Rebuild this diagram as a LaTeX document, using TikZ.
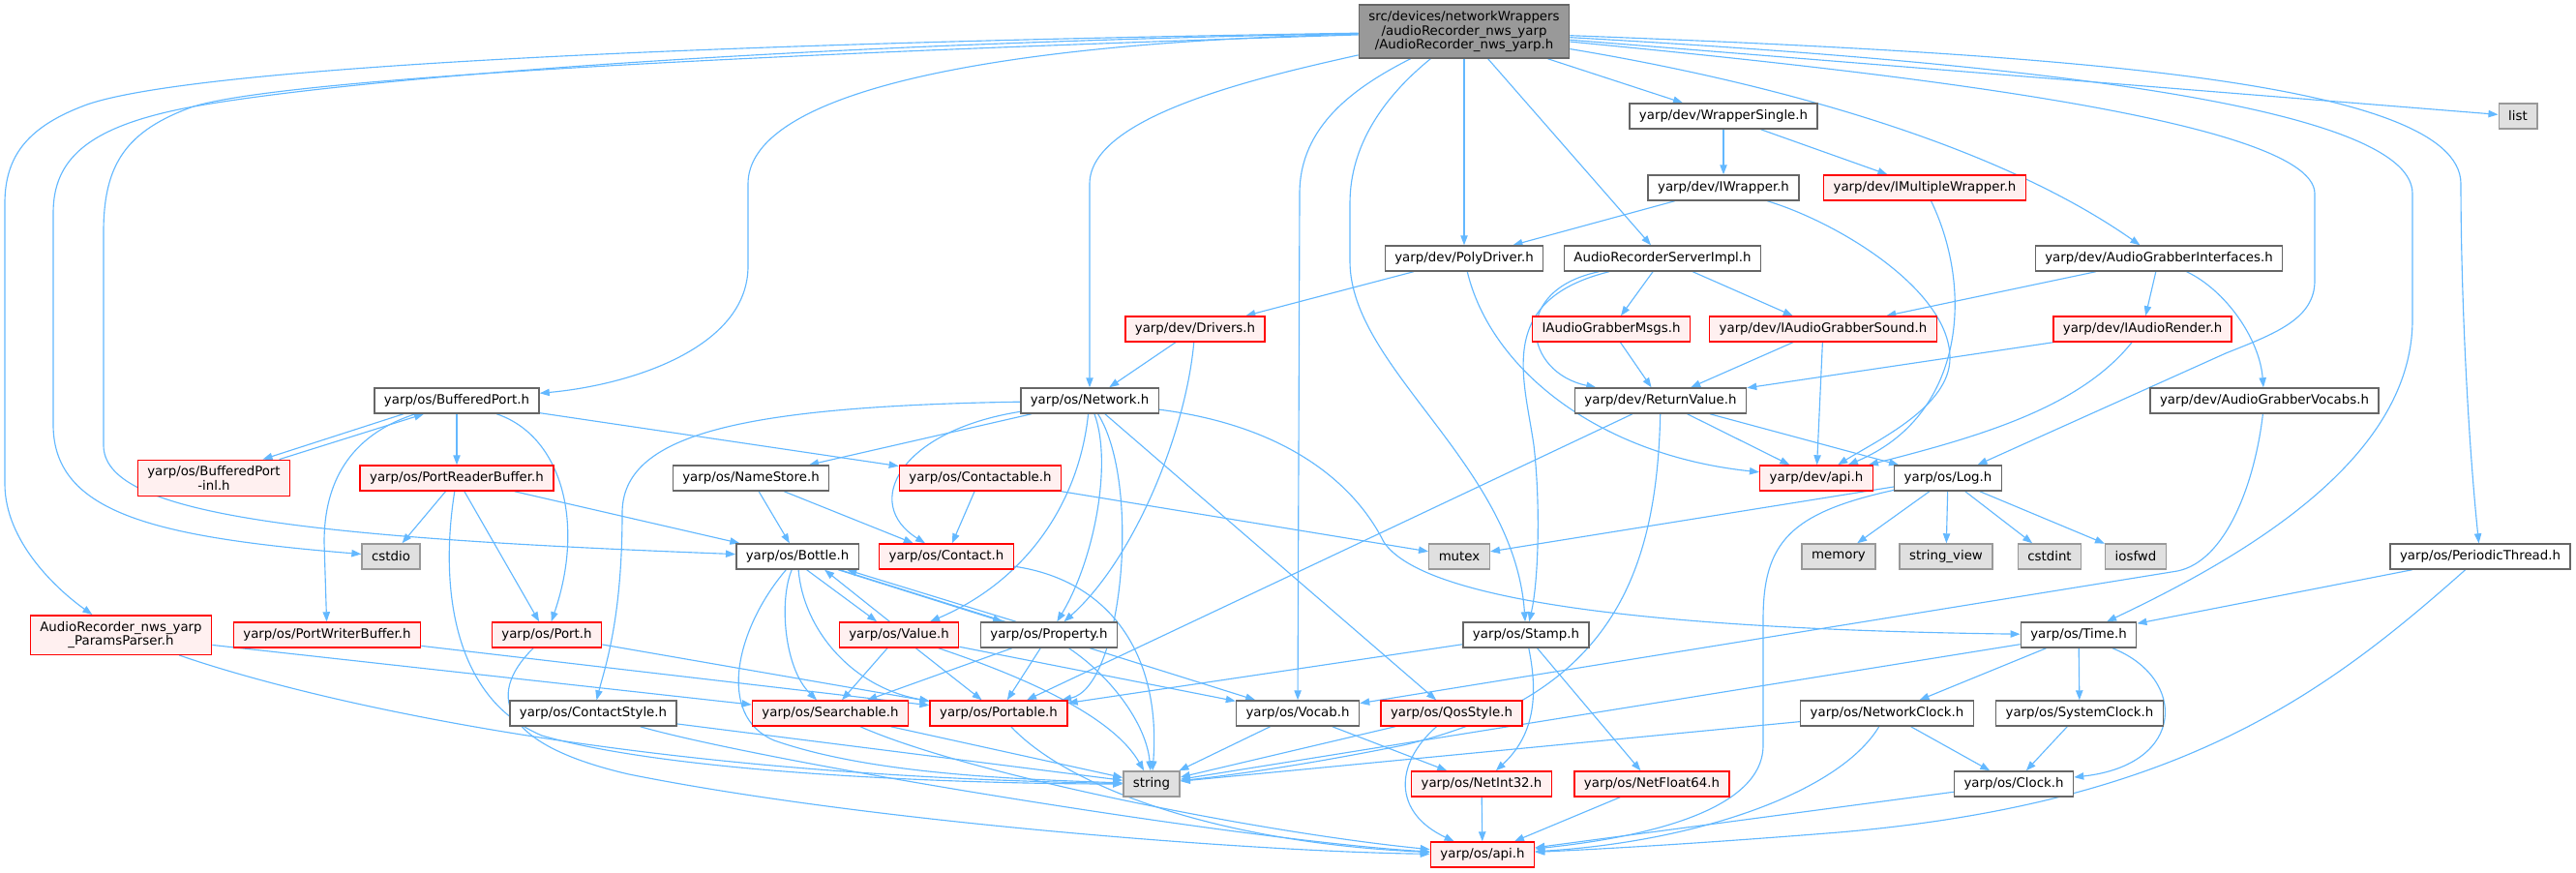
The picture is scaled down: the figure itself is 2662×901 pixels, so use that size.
\documentclass[tikz,border=0pt]{standalone}
\usepackage{fontspec}
\setmainfont{DejaVu Sans}
\usepackage{xcolor}
\usetikzlibrary{arrows.meta}
\definecolor{edgeblue}{HTML}{63B8FF}
\definecolor{redfill}{HTML}{FFF0F0}
\definecolor{extfill}{HTML}{E0E0E0}
\definecolor{extline}{HTML}{999999}
\definecolor{fileline}{HTML}{666666}
\definecolor{rootfill}{HTML}{999999}
\pgfdeclarelayer{background}
\pgfsetlayers{background,main}
\tikzset{file/.style={rectangle,draw=fileline,fill=white,line width=1.1pt,font=\fontsize{10}{10.9}\selectfont,inner xsep=7.5pt,inner ysep=4.75pt,minimum height=19.5pt,align=center},
         redfile/.style={file,draw=red,fill=redfill},
         extfile/.style={file,draw=extline,fill=extfill},
         rootfile/.style={file,fill=rootfill},
         arrow/.style={-{Triangle[length=7.5pt,width=5.5pt]},edgeblue,line width=0.85pt}}

\begin{document}
\begin{tikzpicture}[x=0.75pt,y=-0.75pt]
    \useasboundingbox (0,0) rectangle (2662,901);
    % Files
    \node[rootfile] (root) at (1513,32.5) {src/devices/networkWrappers\\/audioRecorder\_nws\_yarp\\/AudioRecorder\_nws\_yarp.h};
    \node[file] (wsingle) at (1781,120) {yarp/dev/WrapperSingle.h};
    \node[extfile] (list) at (2602,120) {list};
    \node[file] (iwrap) at (1781,194) {yarp/dev/IWrapper.h};
    \node[redfile] (imulti) at (1989,194) {yarp/dev/IMultipleWrapper.h};
    \node[file] (poly) at (1513,267) {yarp/dev/PolyDriver.h};
    \node[file] (srvimpl) at (1718,267) {AudioRecorderServerImpl.h};
    \node[file] (agi) at (2231,267) {yarp/dev/AudioGrabberInterfaces.h};
    \node[redfile] (drivers) at (1235,340) {yarp/dev/Drivers.h};
    \node[redfile] (msgs) at (1665,340) {IAudioGrabberMsgs.h};
    \node[redfile] (sound) at (1884,340) {yarp/dev/IAudioGrabberSound.h};
    \node[redfile] (render) at (2214,340) {yarp/dev/IAudioRender.h};
    \node[file] (bport) at (472,414) {yarp/os/BufferedPort.h};
    \node[file] (network) at (1126,414) {yarp/os/Network.h};
    \node[file] (retval) at (1716,414) {yarp/dev/ReturnValue.h};
    \node[file] (vocabs) at (2340,414) {yarp/dev/AudioGrabberVocabs.h};
    \node[redfile] (bportinl) at (221,494) {yarp/os/BufferedPort\\-inl.h};
    \node[redfile] (preader) at (472,494) {yarp/os/PortReaderBuffer.h};
    \node[file] (namestore) at (776,494) {yarp/os/NameStore.h};
    \node[redfile] (contactable) at (1013,494) {yarp/os/Contactable.h};
    \node[redfile] (devapi) at (1877,494) {yarp/dev/api.h};
    \node[file] (logh) at (2013,494) {yarp/os/Log.h};
    \node[extfile] (cstdio) at (404,575) {cstdio};
    \node[file] (bottle) at (824,575) {yarp/os/Bottle.h};
    \node[redfile] (contact) at (978,575) {yarp/os/Contact.h};
    \node[extfile] (mutex) at (1508,575) {mutex};
    \node[extfile] (memory) at (1900,575) {memory};
    \node[extfile] (strview) at (2011,575) {string\_view};
    \node[extfile] (cstdint) at (2118,575) {cstdint};
    \node[extfile] (iosfwd) at (2207,575) {iosfwd};
    \node[file] (periodic) at (2563,575) {yarp/os/PeriodicThread.h};
    \node[redfile] (parser) at (125,656) {AudioRecorder\_nws\_yarp\\\_ParamsParser.h};
    \node[redfile] (pwriter) at (338,656) {yarp/os/PortWriterBuffer.h};
    \node[redfile] (port) at (565,656) {yarp/os/Port.h};
    \node[redfile] (value) at (929,656) {yarp/os/Value.h};
    \node[file] (property) at (1084,656) {yarp/os/Property.h};
    \node[file] (stamp) at (1577,656) {yarp/os/Stamp.h};
    \node[file] (timeh) at (2148,656) {yarp/os/Time.h};
    \node[file] (cstyle) at (613,737) {yarp/os/ContactStyle.h};
    \node[redfile] (searchable) at (858,737) {yarp/os/Searchable.h};
    \node[redfile] (portable) at (1032,737) {yarp/os/Portable.h};
    \node[file] (vocab) at (1341,737) {yarp/os/Vocab.h};
    \node[redfile] (qos) at (1500,737) {yarp/os/QosStyle.h};
    \node[file] (netclock) at (1950,737) {yarp/os/NetworkClock.h};
    \node[file] (sysclock) at (2149,737) {yarp/os/SystemClock.h};
    \node[extfile] (string) at (1190,810) {string};
    \node[redfile] (netint) at (1531,810) {yarp/os/NetInt32.h};
    \node[redfile] (netfloat) at (1707,810) {yarp/os/NetFloat64.h};
    \node[file] (clock) at (2081,810) {yarp/os/Clock.h};
    \node[redfile] (osapi) at (1532,883) {yarp/os/api.h};
    \begin{pgfonlayer}{background}
    % Includes of the root file
    \draw[arrow] (root) .. controls (700,45) and (200,70) .. (90,108) .. controls (30,130) and (5,160) .. (5,210) -- (5,500) .. controls (5,560) and (60,610) .. (parser);
    \draw[arrow] (root) .. controls (700,48) and (300,90) .. (190,112) .. controls (90,132) and (55,165) .. (55,220) -- (55,440) .. controls (56,530) and (160,555) .. (cstdio);
    \draw[arrow] (root) .. controls (800,55) and (300,80) .. (200,110) .. controls (130,135) and (107,170) .. (107,240) -- (107,460) .. controls (107,530) and (300,555) .. (bottle);
    \draw[arrow] (root) .. controls (1000,45) and (773,100) .. (773,190) -- (773,275) .. controls (773,360) and (650,398) .. (bport);
    \draw[arrow] (root) .. controls (1300,80) and (1126,120) .. (1126,190) -- (network);
    \draw[arrow] (root) .. controls (1400,90) and (1343,130) .. (1343,200) -- (vocab);
    \draw[arrow] (root) .. controls (1430,100) and (1395,150) .. (1395,210) -- (1395,270) .. controls (1395,380) and (1565,480) .. (stamp);
    \draw[arrow] (root) -- (poly);
    \draw[arrow] (root) -- (srvimpl);
    \draw[arrow] (root) -- (wsingle);
    \draw[arrow] (root) .. controls (1800,80) and (2050,140) .. (agi);
    \draw[arrow] (root) .. controls (1900,70) and (2392,120) .. (2392,200) -- (2392,290) .. controls (2392,330) and (2350,345) .. (2300,365) -- (logh);
    \draw[arrow] (root) .. controls (2000,60) and (2493,100) .. (2493,200) -- (2493,330) .. controls (2493,470) and (2330,570) .. (timeh);
    \draw[arrow] (root) .. controls (2100,55) and (2543,80) .. (2543,190) .. controls (2543,300) and (2550,450) .. (periodic);
    \draw[arrow] (root) -- (list);
    % yarp/dev
    \draw[arrow] (wsingle) -- (iwrap);
    \draw[arrow] (wsingle) -- (imulti);
    \draw[arrow] (iwrap) -- (poly);
    \draw[arrow] (iwrap) .. controls (1900,230) and (2015,300) .. (2015,370) .. controls (2015,420) and (1940,455) .. (devapi);
    \draw[arrow] (imulti) .. controls (2040,300) and (2030,430) .. (devapi);
    \draw[arrow] (poly) -- (drivers);
    \draw[arrow] (poly) .. controls (1540,380) and (1650,470) .. (devapi);
    \draw[arrow] (srvimpl) -- (msgs);
    \draw[arrow] (srvimpl) -- (sound);
    \draw[arrow] (srvimpl) .. controls (1560,300) and (1575,385) .. (retval);
    \draw[arrow] (srvimpl) .. controls (1545,310) and (1575,390) .. (1585,460) .. controls (1592,520) and (1590,600) .. (stamp);
    \draw[arrow] (agi) -- (sound);
    \draw[arrow] (agi) -- (render);
    \draw[arrow] (agi) .. controls (2300,300) and (2335,350) .. (vocabs);
    \draw[arrow] (msgs) -- (retval);
    \draw[arrow] (sound) -- (retval);
    \draw[arrow] (sound) -- (devapi);
    \draw[arrow] (render) -- (retval);
    \draw[arrow] (render) .. controls (2150,420) and (2050,450) .. (devapi);
    \draw[arrow] (drivers) -- (network);
    \draw[arrow] (drivers) .. controls (1225,450) and (1170,580) .. (property);
    \draw[arrow] (retval) -- (devapi);
    \draw[arrow] (retval) -- (logh);
    \draw[arrow] (retval) -- (portable);
    \draw[arrow] (retval) .. controls (1712,600) and (1660,720) .. (1450,770) .. controls (1350,790) and (1280,800) .. (string);
    \draw[arrow] (vocabs) .. controls (2330,500) and (2300,580) .. (2250,590) -- (vocab);
    % yarp/os/Network.h
    \draw[arrow] (network) -- (namestore);
    \draw[arrow] (network) .. controls (930,445) and (890,520) .. (contact);
    \draw[arrow] (network) .. controls (760,420) and (643,450) .. (643,530) .. controls (643,640) and (625,690) .. (cstyle);
    \draw[arrow] (network) .. controls (1115,520) and (1060,600) .. (value);
    \draw[arrow] (network) .. controls (1150,480) and (1130,580) .. (property);
    \draw[arrow] (network) .. controls (1180,500) and (1160,710) .. (portable);
    \draw[arrow] (network) -- (qos);
    \draw[arrow] (network) .. controls (1330,440) and (1400,500) .. (1430,560) .. controls (1470,620) and (1700,650) .. (timeh);
    % ports
    \draw[arrow] (bport) -- (preader);
    \draw[arrow] (bport) .. controls (580,450) and (605,540) .. (port);
    \draw[arrow] (bport.194) -- (bportinl.21);
    \draw[arrow] (bportinl.16) -- (bport.202);
    \draw[arrow] (bport) .. controls (360,450) and (335,500) .. (335,560) -- (pwriter);
    \draw[arrow] (bport) -- (contactable);
    \draw[arrow] (preader) -- (cstdio);
    \draw[arrow] (preader) -- (port);
    \draw[arrow] (preader) -- (bottle);
    \draw[arrow] (preader) .. controls (455,600) and (465,720) .. (560,760) .. controls (700,800) and (1000,810) .. (string);
    \draw[arrow] (namestore) -- (bottle);
    \draw[arrow] (namestore) -- (contact);
    \draw[arrow] (contactable) -- (contact);
    \draw[arrow] (contactable) -- (mutex);
    \draw[arrow] (parser) -- (searchable);
    \draw[arrow] (parser) .. controls (280,710) and (600,800) .. (string);
    \draw[arrow] (pwriter) -- (portable);
    \draw[arrow] (port) -- (portable);
    \draw[arrow] (port) .. controls (500,720) and (520,770) .. (650,800) .. controls (900,850) and (1300,880) .. (osapi);
    % yarp/os/Bottle.h
    \draw[arrow] (bottle.305) -- (value.149);
    \draw[arrow] (value.125) -- (bottle.334);
    \draw[arrow] (bottle.342) -- (property.164);
    \draw[arrow] (property.158) -- (bottle.345);
    \draw[arrow] (bottle) .. controls (805,620) and (810,690) .. (searchable);
    \draw[arrow] (bottle) .. controls (830,650) and (880,710) .. (portable);
    \draw[arrow] (bottle) .. controls (760,650) and (740,740) .. (800,765) .. controls (900,800) and (1050,805) .. (string);
    \draw[arrow] (bottle) -- (vocab);
    \draw[arrow] (value) -- (searchable);
    \draw[arrow] (value) -- (portable);
    \draw[arrow] (value) .. controls (1060,700) and (1150,740) .. (string);
    \draw[arrow] (value) -- (vocab);
    \draw[arrow] (property) -- (searchable);
    \draw[arrow] (property) -- (portable);
    \draw[arrow] (property) .. controls (1150,700) and (1185,750) .. (string);
    \draw[arrow] (contact) .. controls (1150,600) and (1200,680) .. (string);
    \draw[arrow] (searchable) -- (string);
    \draw[arrow] (searchable) .. controls (1000,800) and (1300,860) .. (osapi);
    \draw[arrow] (portable) .. controls (1100,810) and (1250,870) .. (osapi);
    \draw[arrow] (cstyle) -- (string);
    \draw[arrow] (cstyle) .. controls (800,790) and (1300,870) .. (osapi);
    % stamp, log and time
    \draw[arrow] (stamp) -- (portable);
    \draw[arrow] (stamp) .. controls (1590,720) and (1585,760) .. (netint);
    \draw[arrow] (stamp) -- (netfloat);
    \draw[arrow] (vocab) -- (string);
    \draw[arrow] (vocab) -- (netint);
    \draw[arrow] (qos) -- (string);
    \draw[arrow] (qos) .. controls (1440,790) and (1440,840) .. (osapi);
    \draw[arrow] (logh) -- (mutex);
    \draw[arrow] (logh) -- (memory);
    \draw[arrow] (logh) -- (strview);
    \draw[arrow] (logh) -- (cstdint);
    \draw[arrow] (logh) -- (iosfwd);
    \draw[arrow] (logh) .. controls (1850,530) and (1822,560) .. (1822,640) -- (1822,770) .. controls (1822,850) and (1650,870) .. (osapi);
    \draw[arrow] (periodic) -- (timeh);
    \draw[arrow] (periodic) .. controls (2400,720) and (2250,830) .. (1900,860) .. controls (1800,868) and (1700,875) .. (osapi);
    \draw[arrow] (timeh) -- (netclock);
    \draw[arrow] (timeh) -- (sysclock);
    \draw[arrow] (timeh) .. controls (2260,700) and (2260,790) .. (clock);
    \draw[arrow] (timeh) -- (string);
    \draw[arrow] (netclock) -- (string);
    \draw[arrow] (netclock) .. controls (1900,820) and (1750,870) .. (osapi);
    \draw[arrow] (netclock) -- (clock);
    \draw[arrow] (sysclock) -- (clock);
    \draw[arrow] (clock) -- (osapi);
    \draw[arrow] (netint) -- (osapi);
    \draw[arrow] (netfloat) -- (osapi);
    \end{pgfonlayer}
  \end{tikzpicture}
\end{document}
